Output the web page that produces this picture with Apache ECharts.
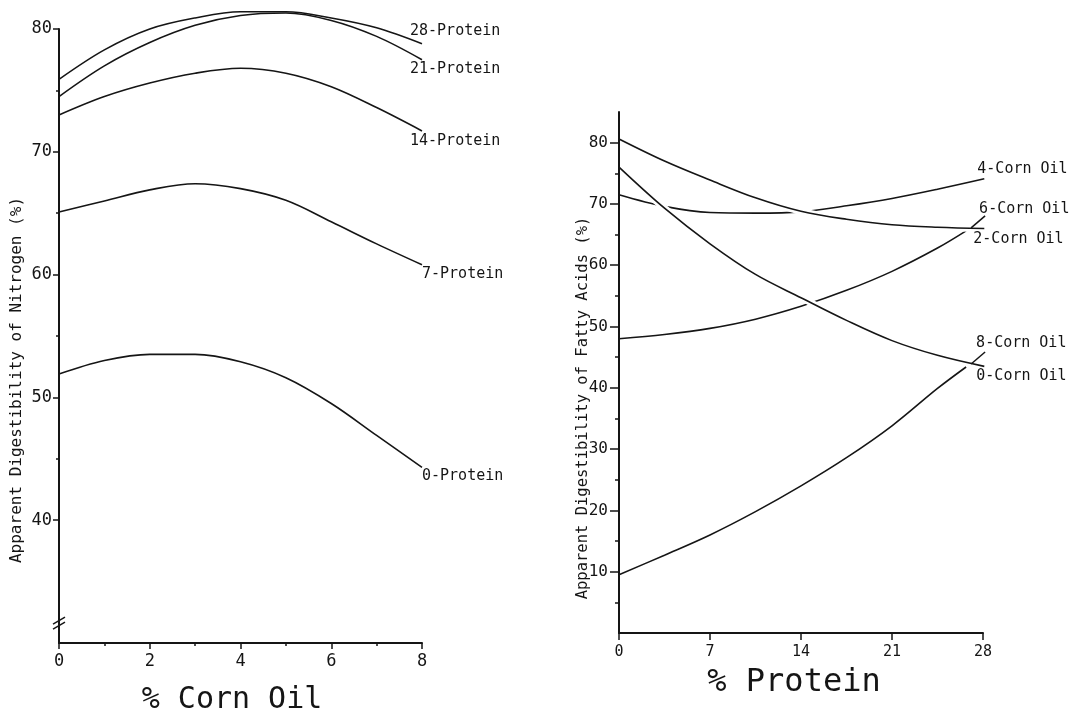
<!DOCTYPE html>
<html>
<head>
<meta charset="utf-8">
<title>Apparent digestibility of nitrogen and fatty acids</title>
<script src="https://cdn.jsdelivr.net/npm/echarts@6/dist/echarts.min.js"></script>
<style>
  html, body { margin: 0; padding: 0; background: #fff; }
  #chart { width: 1082px; height: 715px; }
</style>
</head>
<body>
<div id="chart"></div>
<script>
// ---- Nitrogen digestibility vs. dietary corn oil (left panel) ----
const cornOilPct = [0, 1, 2, 3, 4, 5, 6, 7, 8];
const nitrogen28Protein = [75.9, 78.3, 80.0, 80.9, 81.4, 81.4, 80.9, 80.1, 78.8];
const nitrogen21Protein = [74.5, 77.0, 78.9, 80.3, 81.1, 81.3, 80.7, 79.4, 77.5];
const nitrogen14Protein = [73.0, 74.5, 75.6, 76.4, 76.8, 76.4, 75.3, 73.6, 71.7];
const nitrogen7Protein  = [65.1, 66.0, 66.9, 67.4, 67.0, 66.05, 64.3, 62.5, 60.8];
const nitrogen0Protein  = [51.9, 53.0, 53.5, 53.5, 52.9, 51.6, 49.5, 46.9, 44.3];

// ---- Fatty acid digestibility vs. dietary protein (right panel) ----
const proteinPct      = [0, 3.5, 7, 10.5, 14, 17.5, 21, 24.5, 28.1];
const proteinPctShort = [0, 3.5, 7, 10.5, 14, 17.5, 21, 24.5, 26.7];
const fatty4CornOil = [71.5, 69.6, 68.6, 68.5, 68.7, 69.7, 70.9, 72.4, 74.1];
const fatty2CornOil = [80.6, 77.0, 73.9, 71.0, 68.8, 67.5, 66.6, 66.2, 66.0];
const fatty0CornOil = [76.0, 69.3, 63.5, 58.5, 54.7, 51.0, 47.7, 45.3, 43.5];
const fatty6CornOil = [48.0, 48.7, 49.7, 51.2, 53.3, 55.9, 59.0, 62.8, 65.6];
const fatty8CornOil = [9.5, 12.7, 16.0, 19.8, 24.0, 28.6, 33.8, 39.9, 43.4];

// ---- Axis ticks and labels ----
const leftXTicks = [0, 2, 4, 6, 8];
const leftYMajor = [40, 50, 60, 70, 80];
const leftYMinor = [45, 55, 65, 75];
const rightXTicks = [0, 7, 14, 21, 28];
const rightYMajor = [10, 20, 30, 40, 50, 60, 70, 80];
const rightYMinor = [5, 15, 25, 35, 45, 55, 65, 75];

const INK = '#151515';
const FONT = '"DejaVu Sans Mono", "Liberation Mono", monospace';

const pairs = (xs, ys) => xs.map((x, i) => [x, ys[i]]);

function curve(name, xIdx, yIdx, xs, ys, labelOffset, z) {
  return {
    name: name,
    type: 'line',
    xAxisIndex: xIdx,
    yAxisIndex: yIdx,
    data: pairs(xs, ys),
    smooth: 0.35,
    symbol: 'none',
    clip: false,
    silent: true,
    animation: false,
    z: z || 2,
    lineStyle: { color: INK, width: 1.6 },
    endLabel: {
      show: true,
      formatter: name,
      distance: 0,
      offset: labelOffset,
      color: INK,
      fontFamily: FONT,
      fontSize: 15
    }
  };
}

// White pen-lift underlay: lines drawn across another curve leave a small gap in it
function penLift(xs, ys) {
  return {
    type: 'line', xAxisIndex: 1, yAxisIndex: 2,
    data: pairs(xs, ys), smooth: 0.35, symbol: 'none', clip: false,
    silent: true, animation: false, z: 3,
    lineStyle: { color: '#ffffff', width: 7, cap: 'butt' }
  };
}

const chart = echarts.init(document.getElementById('chart'), null, { renderer: 'canvas' });

const axisLine = { show: true, onZero: false, lineStyle: { color: INK, width: 2 } };
const tickStyle = { color: INK, width: 1.5 };

chart.setOption({
  backgroundColor: '#ffffff',
  animation: false,
  grid: [
    { left: 59, top: 29, width: 363, height: 614 },
    { left: 619, top: 112, width: 364, height: 521 }
  ],
  xAxis: [
    {
      gridIndex: 0, type: 'value', min: 0, max: 8, interval: 2, z: 10,
      axisLine: axisLine,
      axisTick: { show: true, length: 6, lineStyle: tickStyle, customValues: leftXTicks },
      minorTick: { show: true, splitNumber: 2, length: 3, lineStyle: tickStyle },
      splitLine: { show: false },
      axisLabel: { margin: 10, color: INK, fontFamily: FONT, fontSize: 17, customValues: leftXTicks }
    },
    {
      gridIndex: 1, type: 'value', min: 0, max: 28, interval: 7, z: 10,
      axisLine: axisLine,
      axisTick: { show: true, length: 7, lineStyle: tickStyle, customValues: rightXTicks },
      splitLine: { show: false },
      axisLabel: { margin: 12, color: INK, fontFamily: FONT, fontSize: 15, customValues: rightXTicks }
    }
  ],
  yAxis: [
    {
      gridIndex: 0, type: 'value', position: 'left', min: 30, max: 80, z: 10,
      axisLine: axisLine,
      axisTick: { show: true, length: 6, lineStyle: tickStyle, customValues: leftYMajor },
      splitLine: { show: false },
      axisLabel: { margin: 7, color: INK, fontFamily: FONT, fontSize: 17, customValues: leftYMajor }
    },
    {
      gridIndex: 0, type: 'value', position: 'left', min: 30, max: 80, z: 10,
      axisLine: { show: false },
      axisTick: { show: true, length: 3, lineStyle: tickStyle, customValues: leftYMinor },
      splitLine: { show: false },
      axisLabel: { show: false }
    },
    {
      gridIndex: 1, type: 'value', position: 'left', min: 0, max: 85, z: 10,
      axisLine: axisLine,
      axisTick: { show: true, length: 9, lineStyle: tickStyle, customValues: rightYMajor },
      splitLine: { show: false },
      axisLabel: { margin: 11, color: INK, fontFamily: FONT, fontSize: 16, customValues: rightYMajor }
    },
    {
      gridIndex: 1, type: 'value', position: 'left', min: 0, max: 85, z: 10,
      axisLine: { show: false },
      axisTick: { show: true, length: 4, lineStyle: tickStyle, customValues: rightYMinor },
      splitLine: { show: false },
      axisLabel: { show: false }
    }
  ],
  series: [
    curve('28-Protein', 0, 0, cornOilPct, nitrogen28Protein, [-12, -13]),
    curve('21-Protein', 0, 0, cornOilPct, nitrogen21Protein, [-12, 9]),
    curve('14-Protein', 0, 0, cornOilPct, nitrogen14Protein, [-12, 10]),
    curve('7-Protein',  0, 0, cornOilPct, nitrogen7Protein,  [0, 9]),
    curve('0-Protein',  0, 0, cornOilPct, nitrogen0Protein,  [0, 9]),
    curve('4-Corn Oil', 1, 2, proteinPct, fatty4CornOil, [-7, -10]),
    curve('6-Corn Oil', 1, 2, proteinPctShort, fatty6CornOil, [13, -22]),
    curve('8-Corn Oil', 1, 2, proteinPctShort, fatty8CornOil, [10, -24]),
    penLift(proteinPct, fatty2CornOil),
    penLift(proteinPct, fatty0CornOil),
    curve('2-Corn Oil', 1, 2, proteinPct, fatty2CornOil, [-11, 11], 4),
    curve('0-Corn Oil', 1, 2, proteinPct, fatty0CornOil, [-8, 10], 4)
  ]
});

// Axis titles, the broken-axis mark and the short leader strokes
const last = (arr) => arr[arr.length - 1];
const breakAt = chart.convertToPixel({ xAxisIndex: 0, yAxisIndex: 0 }, [0, 31.7]);
const end6 = chart.convertToPixel({ xAxisIndex: 1, yAxisIndex: 2 }, [last(proteinPctShort), last(fatty6CornOil)]);
const end8 = chart.convertToPixel({ xAxisIndex: 1, yAxisIndex: 2 }, [last(proteinPctShort), last(fatty8CornOil)]);

const stroke = { stroke: INK, lineWidth: 1.5 };
function leader(p) {
  return { type: 'line', silent: true, z: 20,
    shape: { x1: p[0] + 5, y1: p[1] - 3, x2: p[0] + 19, y2: p[1] - 15 }, style: stroke };
}

chart.setOption({
  graphic: [
    { type: 'text', x: 232, y: 700, silent: true,
      style: { text: '% Corn Oil', fill: INK, font: '30px ' + FONT, align: 'center', verticalAlign: 'middle' } },
    { type: 'text', x: 794, y: 683, silent: true,
      style: { text: '% Protein', fill: INK, font: '32px ' + FONT, align: 'center', verticalAlign: 'middle' } },
    { type: 'text', x: 17, y: 380, rotation: Math.PI / 2, silent: true,
      style: { text: 'Apparent Digestibility of Nitrogen (%)', fill: INK, font: '16px ' + FONT, align: 'center', verticalAlign: 'middle' } },
    { type: 'text', x: 583, y: 408, rotation: Math.PI / 2, silent: true,
      style: { text: 'Apparent Digestibility of Fatty Acids (%)', fill: INK, font: '15.5px ' + FONT, align: 'center', verticalAlign: 'middle' } },
    { type: 'line', silent: true, z: 20,
      shape: { x1: breakAt[0] - 6, y1: breakAt[1] + 2, x2: breakAt[0] + 6, y2: breakAt[1] - 5 }, style: stroke },
    { type: 'line', silent: true, z: 20,
      shape: { x1: breakAt[0] - 6, y1: breakAt[1] + 7, x2: breakAt[0] + 6, y2: breakAt[1] }, style: stroke },
    leader(end6),
    leader(end8)
  ]
});
</script>
</body>
</html>
